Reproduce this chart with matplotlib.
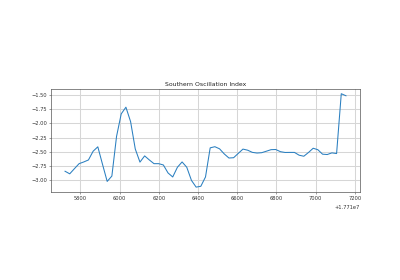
import matplotlib
matplotlib.use("Agg")
import matplotlib.pyplot as plt
from matplotlib.ticker import MultipleLocator
import numpy as np

title = "Southern Oscillation Index"
x_start = 17715722
x_step = 23.87
soi = [-2.84, -2.885, -2.795, -2.707, -2.677, -2.642, -2.489, -2.412, -2.718, -3.018,
       -2.924, -2.23, -1.835, -1.718, -1.971, -2.45, -2.68, -2.571, -2.642, -2.707,
       -2.707, -2.73, -2.87, -2.94, -2.77, -2.677, -2.77, -3.0, -3.118, -3.103,
       -2.94, -2.43, -2.41, -2.447, -2.536, -2.608, -2.603, -2.527, -2.452, -2.471,
       -2.509, -2.521, -2.515, -2.489, -2.462, -2.459, -2.497, -2.511, -2.51, -2.51,
       -2.559, -2.577, -2.511, -2.437, -2.463, -2.541, -2.547, -2.518, -2.53, -1.482,
       -1.518]
x = [x_start + i * x_step for i in range(len(soi))]

fig = plt.figure(figsize=(4, 2.8), dpi=100)
ax = fig.add_axes([0.1275, 0.315, 0.7725, 0.367])
ax.plot(x, soi, color="#2a7fc0", lw=0.75)
ax.set_title(title, fontsize=4.4, pad=2.5, color="#222222")
ax.xaxis.set_major_locator(MultipleLocator(200))
ax.yaxis.set_major_locator(MultipleLocator(0.25))
ax.grid(True, color="#d6d6d6", lw=0.75)
ax.tick_params(labelsize=3.7, length=1.5, width=0.4, pad=1.5, labelcolor="#333333",
               color="#555555")
ax.xaxis.get_offset_text().set_fontsize(3.7)
ax.xaxis.get_offset_text().set_color("#333333")
for s in ax.spines.values():
    s.set_linewidth(0.5)
    s.set_color("#555555")
fig.savefig("out.png", dpi=100)
